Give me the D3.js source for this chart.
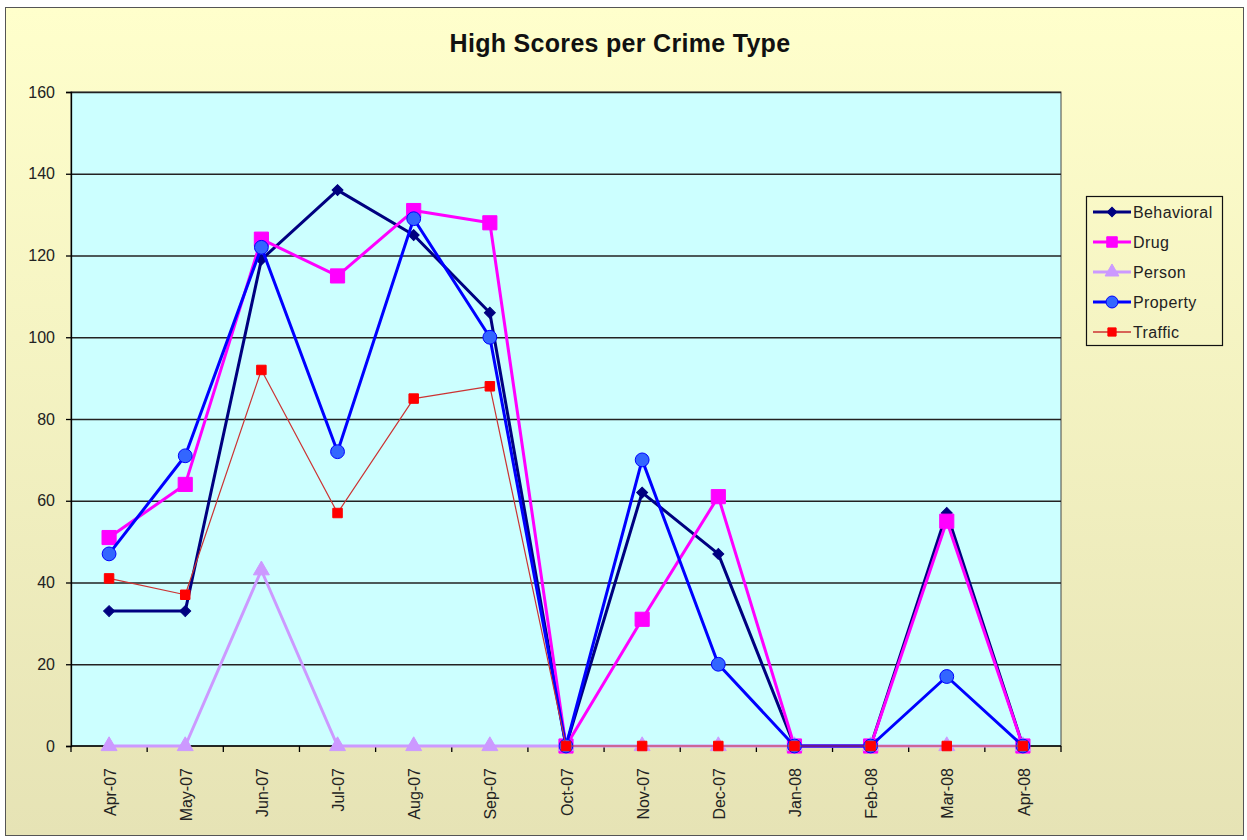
<!DOCTYPE html>
<html>
<head>
	<title>High Scores per Crime Type</title>
	<style type="text/css">
		body{ margin:0; background:#ffffff; }
		text{ font-family: "Liberation Sans", Arial, sans-serif; }
	</style>
</head>
<body>
	<svg width=1247 height=840 class="chart"></svg>
	<script type="text/javascript" src="https://cdnjs.cloudflare.com/ajax/libs/d3/7.8.5/d3.min.js"></script>
	<script type="text/javascript">

		months = ['Apr-07','May-07','Jun-07','Jul-07','Aug-07','Sep-07','Oct-07','Nov-07','Dec-07','Jan-08','Feb-08','Mar-08','Apr-08']
		behavioral = [33,33,119,136,125,106,0,62,47,0,0,57,0]
		drug = [51,64,124,115,131,128,0,31,61,0,0,55,0]
		person = [0,0,43,0,0,0,0,0,0,0,0,0,0]
		property = [47,71,122,72,129,100,0,70,20,0,0,17,0]
		traffic = [41,37,92,57,85,88,0,0,0,0,0,0,0]
		y_ticks = [0,20,40,60,80,100,120,140,160]

		series = [
			{name:'Behavioral', values:behavioral, line:'#000080', fill:'#000080', stroke:'#000080', width:3, symbol:'diamond', size:60},
			{name:'Drug', values:drug, line:'#ff00ff', fill:'#ff00ff', stroke:'#ff00ff', width:3, symbol:'square', size:200},
			{name:'Person', values:person, line:'#cc99ff', fill:'#cc99ff', stroke:'#cc99ff', width:3, symbol:'triangle', size:110},
			{name:'Property', values:property, line:'#0000ff', fill:'#3366ff', stroke:'#0000ff', width:3, symbol:'circle', size:150},
			{name:'Traffic', values:traffic, line:'#cc3333', fill:'#ff0000', stroke:'#ff0000', width:1.2, symbol:'square', size:90}
		]

		margin = {'top':92, 'left':71}
		plot_w = 990
		plot_h = 654

		svg = d3.select('.chart')

		// background gradient
		grad = svg.append('defs').append('linearGradient')
			.attr('id', 'bg').attr('x1', 0).attr('y1', 0).attr('x2', 0).attr('y2', 1)
		grad.append('stop').attr('offset', '0%').attr('stop-color', '#ffffcc')
		grad.append('stop').attr('offset', '100%').attr('stop-color', '#e6e3b5')

		svg.append('rect')
			.attr('x', 5.5).attr('y', 7.5).attr('width', 1238).attr('height', 828)
			.attr('fill', 'url(#bg)').attr('stroke', '#555').attr('stroke-width', 1)

		svg.append('text')
			.attr('x', 620).attr('y', 52)
			.attr('text-anchor', 'middle')
			.attr('font-size', 25).attr('font-weight', 'bold')
			.attr('letter-spacing', 0.3)
			.attr('fill', '#111')
			.text('High Scores per Crime Type')

		x = d3.scaleBand().domain(months).range([0, plot_w])
		y = d3.scaleLinear().domain([0, 160]).range([plot_h, 0])
		cx = function(d, i) { return x(months[i]) + x.bandwidth()/2 }

		g = svg.append('g').attr('transform', 'translate('+margin.left+','+margin.top+')')

		g.append('rect')
			.attr('width', plot_w).attr('height', plot_h)
			.attr('fill', '#ccffff').attr('stroke', '#444').attr('stroke-width', 1)

		// gridlines
		g.append('g')
			.call(d3.axisLeft(y).tickValues(y_ticks.slice(1)).tickSize(-plot_w).tickFormat(''))
			.call(function(s) {
				s.select('.domain').remove()
				s.selectAll('line').attr('stroke', '#222').attr('stroke-width', 1.3)
			})

		// y axis
		g.append('g')
			.call(d3.axisLeft(y).tickValues(y_ticks).tickSize(5).tickPadding(11))
			.call(function(s) {
				s.select('.domain').attr('stroke', '#000').attr('stroke-width', 1.3)
				s.selectAll('line').attr('stroke', '#000').attr('stroke-width', 1.3)
				s.selectAll('text').attr('font-size', 16).attr('fill', '#222')
					.attr('font-family', '"Liberation Sans", Arial, sans-serif')
			})

		// x axis with ticks between categories
		x_axis = g.append('g').attr('transform', 'translate(0,'+plot_h+')')
		x_axis.append('line')
			.attr('x1', 0).attr('x2', plot_w)
			.attr('stroke', '#000').attr('stroke-width', 1.3)
		boundaries = months.map(function(m) { return x(m) }).concat([plot_w])
		x_axis.selectAll('.tk')
			.data(boundaries).enter()
			.append('line')
			.attr('x1', function(d) {return d}).attr('x2', function(d) {return d})
			.attr('y1', 0).attr('y2', 6)
			.attr('stroke', '#000').attr('stroke-width', 1.3)
		x_axis.selectAll('.lbl')
			.data(months).enter()
			.append('text')
			.attr('transform', function(d) { return 'translate('+(x(d) + x.bandwidth()/2 + 1)+',22) rotate(-90)' })
			.attr('text-anchor', 'end')
			.attr('dy', '0.35em')
			.attr('font-size', 16)
			.attr('fill', '#222')
			.text(function(d) {return d})

		symbol_types = {
			diamond: d3.symbolSquare,
			square: d3.symbolSquare,
			triangle: d3.symbolTriangle,
			circle: d3.symbolCircle
		}

		line = d3.line()
			.x(cx)
			.y(function(d) {return y(d)})

		series.forEach(function(s) {
			sg = g.append('g').attr('class', 'series')
			sg.append('path')
				.datum(s.values)
				.attr('d', line)
				.attr('fill', 'none')
				.attr('stroke', s.line)
				.attr('stroke-width', s.width)
				.attr('stroke-linejoin', 'round')
			sg.selectAll('.pt')
				.data(s.values).enter()
				.append('path')
				.attr('d', d3.symbol().type(symbol_types[s.symbol]).size(s.size))
				.attr('transform', function(d, i) {
					t = 'translate('+cx(d, i)+','+y(d)+')'
					if (s.symbol == 'diamond') t += ' rotate(45)'
					return t
				})
				.attr('fill', s.fill)
				.attr('stroke', s.stroke)
				.attr('stroke-width', 1)
		})

		// legend
		legend = svg.append('g').attr('transform', 'translate(1086,196)')
		legend.append('rect')
			.attr('x', 0.5).attr('y', 0.5).attr('width', 136).attr('height', 149)
			.attr('fill', 'none').attr('stroke', '#111').attr('stroke-width', 1.2)

		items = legend.selectAll('.item')
			.data(series).enter()
			.append('g')
			.attr('transform', function(d, i) { return 'translate(0,'+(16 + i*30)+')' })
		items.append('line')
			.attr('x1', 7).attr('x2', 45)
			.attr('stroke', function(d) {return d.line})
			.attr('stroke-width', function(d) {return d.width == 3 ? 3 : 1.5})
		items.append('path')
			.attr('d', function(d) { return d3.symbol().type(symbol_types[d.symbol]).size(d.symbol == 'square' && d.name == 'Drug' ? 110 : d.size*0.75)() })
			.attr('transform', function(d) { return 'translate(26,0)' + (d.symbol == 'diamond' ? ' rotate(45)' : '') })
			.attr('fill', function(d) {return d.fill})
			.attr('stroke', function(d) {return d.stroke})
		items.append('text')
			.attr('x', 47).attr('dy', '0.36em')
			.attr('font-size', 16)
			.attr('letter-spacing', 0.4)
			.attr('fill', '#222')
			.text(function(d) {return d.name})

	</script>
</body>
</html>
